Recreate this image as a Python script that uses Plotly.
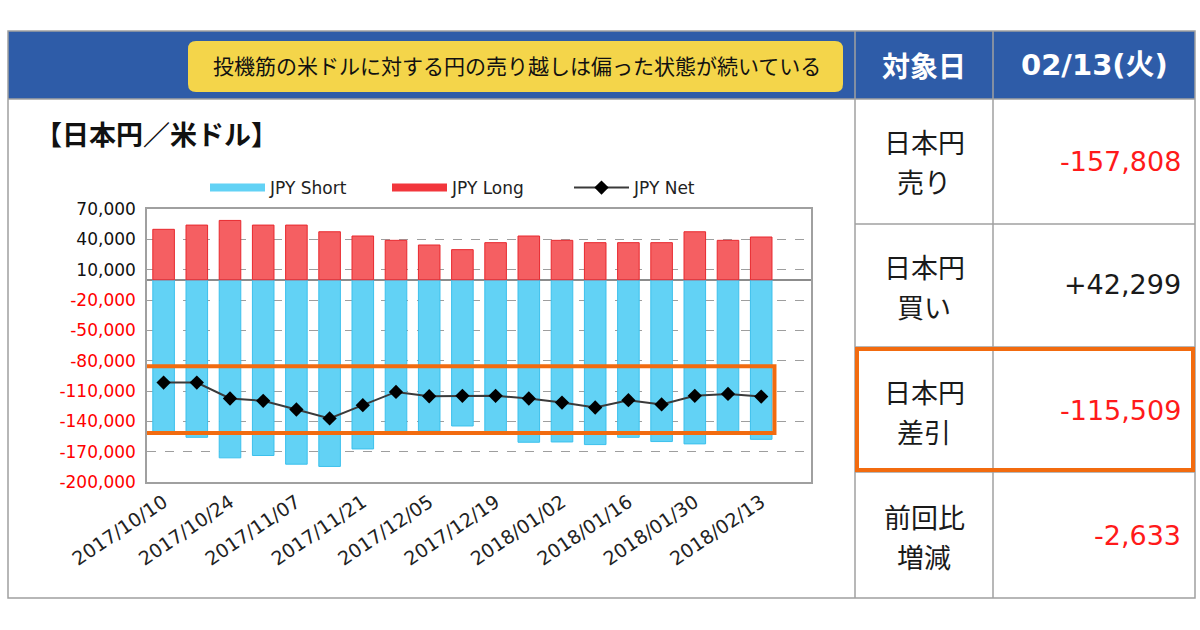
import plotly.graph_objects as go

# ---------------- data ----------------
dates = ["2017/10/10", "2017/10/17", "2017/10/24", "2017/10/31", "2017/11/07",
         "2017/11/14", "2017/11/21", "2017/11/28", "2017/12/05", "2017/12/12",
         "2017/12/19", "2017/12/26", "2018/01/02", "2018/01/09", "2018/01/16",
         "2018/01/23", "2018/01/30", "2018/02/06", "2018/02/13"]
jpy_long = [49900, 54100, 58700, 54100, 54100, 47500, 43300, 39000, 34400, 29800,
            36700, 43300, 39000, 36700, 36700, 36700, 47500, 39000, 42299]
jpy_short = [-151600, -155800, -176100, -173800, -182400, -184600, -167300, -149900,
             -149600, -144600, -151500, -160700, -160400, -163000, -155800, -160000,
             -162300, -151876, -157808]
jpy_net = [s + l for s, l in zip(jpy_short, jpy_long)]

y_tick_values = [70000, 40000, 10000, -20000, -50000, -80000, -110000, -140000, -170000, -200000]
x_tick_labels = dates[::2]

headline = "投機筋の米ドルに対する円の売り越しは偏った状態が続いている"
chart_title = "【日本円／米ドル】"
table_head = ["対象日", "02/13(火)"]
row_labels = [("日本円", "売り"), ("日本円", "買い"), ("日本円", "差引"), ("前回比", "増減")]
row_values = [jpy_short[-1], jpy_long[-1], jpy_net[-1], jpy_net[-1] - jpy_net[-2]]

# ---------------- helpers ----------------
W, H = 1200, 630
def fx(x): return x / W
def fy(y): return 1 - y / H

BLUE_HDR = "#2E5CA8"
GRID = "#9E9E9E"
ORANGE = "#F26B0F"
SHORT_C = "#62D2F5"
LONG_C = "#F55F62"
RED_TXT = "#FF1A1A"

y_ticktext = []
for v in y_tick_values:
    if v < 0:
        y_ticktext.append(f"<span style='color:#FF0000'>{v:,}</span>")
    else:
        y_ticktext.append(f"{v:,}")

fig = go.Figure()
fig.add_trace(go.Bar(x=dates, y=jpy_short, name="JPY Short", width=0.65,
                     marker=dict(color=SHORT_C, line=dict(color="#3CC0EC", width=1)),
                     showlegend=False))
fig.add_trace(go.Bar(x=dates, y=jpy_long, name="JPY Long", width=0.65,
                     marker=dict(color=LONG_C, line=dict(color="#E8282E", width=1)),
                     showlegend=False))
# legend entries
fig.add_trace(go.Scatter(x=[None], y=[None], mode="lines", name="JPY Short",
                         line=dict(color=SHORT_C, width=8)))
fig.add_trace(go.Scatter(x=[None], y=[None], mode="lines", name="JPY Long",
                         line=dict(color="#F2363C", width=8)))
fig.add_trace(go.Scatter(x=dates, y=jpy_net, name="JPY Net", mode="lines+markers",
                         line=dict(color="#3A3A3A", width=2),
                         marker=dict(symbol="diamond", size=11, color="#000000")))

shapes = []
# header band
shapes.append(dict(type="rect", xref="paper", yref="paper", x0=fx(8), x1=fx(1195),
                   y0=fy(99), y1=fy(31), fillcolor=BLUE_HDR, line=dict(width=0), layer="below"))
# outer frame
shapes.append(dict(type="rect", xref="paper", yref="paper", x0=fx(8), x1=fx(1195),
                   y0=fy(598), y1=fy(31), line=dict(color="#A0A0A0", width=1.5)))
# table dividers
for xv in (855, 993):
    shapes.append(dict(type="line", xref="paper", yref="paper", x0=fx(xv), x1=fx(xv),
                       y0=fy(598), y1=fy(31), line=dict(color="#A0A0A0", width=1.5)))
shapes.append(dict(type="line", xref="paper", yref="paper", x0=fx(8), x1=fx(1195),
                   y0=fy(99), y1=fy(99), line=dict(color="#A0A0A0", width=1.5)))
for yv in (224, 347, 472):
    shapes.append(dict(type="line", xref="paper", yref="paper", x0=fx(855), x1=fx(1195),
                       y0=fy(yv), y1=fy(yv), line=dict(color="#A0A0A0", width=1.5)))

# yellow rounded box
x0, x1, y0, y1, r = 188, 843, 41, 92, 8
pts = (f"M {fx(x0+r)},{fy(y0)} L {fx(x1-r)},{fy(y0)} Q {fx(x1)},{fy(y0)} {fx(x1)},{fy(y0+r)} "
       f"L {fx(x1)},{fy(y1-r)} Q {fx(x1)},{fy(y1)} {fx(x1-r)},{fy(y1)} "
       f"L {fx(x0+r)},{fy(y1)} Q {fx(x0)},{fy(y1)} {fx(x0)},{fy(y1-r)} "
       f"L {fx(x0)},{fy(y0+r)} Q {fx(x0)},{fy(y0)} {fx(x0+r)},{fy(y0)} Z")
shapes.append(dict(type="path", xref="paper", yref="paper", path=pts,
                   fillcolor="#F4D54A", line=dict(width=0)))

# orange highlight on table row
shapes.append(dict(type="rect", xref="paper", yref="paper", x0=fx(857), x1=fx(1193),
                   y0=fy(470), y1=fy(349), line=dict(color=ORANGE, width=4)))
# orange highlight on chart (net line zone)
shapes.append(dict(type="rect", xref="x", yref="y", x0=-0.62, x1=18.4,
                   y0=-151600, y1=-85600, line=dict(color=ORANGE, width=4)))

annotations = []
annotations.append(dict(xref="paper", yref="paper", x=fx(517), y=fy(65), text=headline,
                        showarrow=False, xanchor="center", yanchor="middle",
                        font=dict(family="Noto Sans CJK JP", size=21, color="#111111")))
annotations.append(dict(xref="paper", yref="paper", x=fx(924), y=fy(65), text=f"<b>{table_head[0]}</b>",
                        showarrow=False, xanchor="center", yanchor="middle",
                        font=dict(family="Noto Sans CJK JP", size=28, color="#FFFFFF")))
annotations.append(dict(xref="paper", yref="paper", x=fx(1094), y=fy(65), text=f"<b>{table_head[1]}</b>",
                        showarrow=False, xanchor="center", yanchor="middle",
                        font=dict(family="DejaVu Sans, Noto Sans CJK JP", size=29, color="#FFFFFF")))
annotations.append(dict(xref="paper", yref="paper", x=fx(33), y=fy(133), text=f"<b>{chart_title}</b>",
                        showarrow=False, xanchor="left", yanchor="middle",
                        font=dict(family="Noto Sans CJK JP", size=27, color="#111111")))

row_centers = [161, 285, 410, 535]
for (l1, l2), val, yc in zip(row_labels, row_values, row_centers):
    for txt, yy in ((l1, yc - 19), (l2, yc + 21)):
        annotations.append(dict(xref="paper", yref="paper", x=fx(924), y=fy(yy), text=txt,
                                showarrow=False, xanchor="center", yanchor="middle",
                                font=dict(family="Noto Sans CJK JP", size=27, color="#1A1A1A")))
    annotations.append(dict(xref="paper", yref="paper", x=fx(1183), y=fy(yc), text=f"{val:+,}",
                            showarrow=False, xanchor="right", yanchor="middle",
                            font=dict(family="DejaVu Sans", size=27,
                                      color=RED_TXT if val < 0 else "#1A1A1A")))

fig.update_layout(
    width=W, height=630,
    margin=dict(l=0, r=0, t=0, b=0, autoexpand=False),
    paper_bgcolor="#FFFFFF", plot_bgcolor="#FFFFFF",
    barmode="relative", bargap=0.35,
    shapes=shapes, annotations=annotations,
    legend=dict(orientation="h", x=fx(205), y=fy(170), xanchor="left", yanchor="top",
                entrywidth=112, entrywidthmode="pixels", itemwidth=55,
                font=dict(family="DejaVu Sans", size=17, color="#222222"),
                bgcolor="rgba(0,0,0,0)"),
    xaxis=dict(domain=[fx(147), fx(811)], type="category", range=[-0.5, 19.5],
               tickmode="array", tickvals=x_tick_labels, ticktext=x_tick_labels,
               tickangle=-34, showgrid=False, showline=True, mirror=True, automargin=False,
               linecolor="#A0A0A0", linewidth=1.5, ticks="",
               tickfont=dict(family="DejaVu Sans", size=19, color="#222222")),
    yaxis=dict(domain=[fy(482), fy(209)], range=[-200000, 70000], automargin=False,
               tickmode="array", tickvals=y_tick_values, ticktext=y_ticktext,
               showgrid=True, gridcolor=GRID, griddash="dash", gridwidth=1,
               zeroline=True, zerolinecolor="#8C8C8C", zerolinewidth=1.5,
               showline=True, mirror=True, linecolor="#A0A0A0", linewidth=1.5,
               ticks="", ticklabelstandoff=6,
               tickfont=dict(family="DejaVu Sans", size=17, color="#111111")),
)

fig.write_html("out.html", config={"displayModeBar": False},
               post_script="document.body.style.margin='0';")
